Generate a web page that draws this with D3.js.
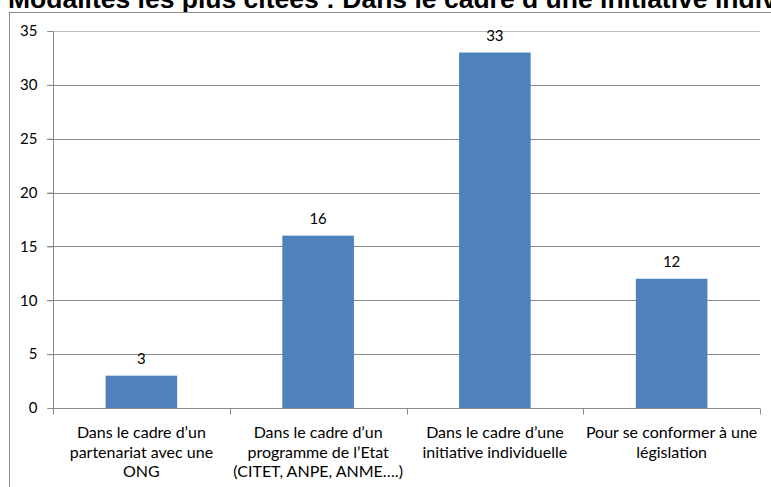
<!DOCTYPE html>
<html>
<head>
<meta charset="utf-8">
<script src="https://cdn.jsdelivr.net/npm/d3@7"></script>
<style>
  html, body { margin: 0; padding: 0; background: #fff; overflow: hidden; }
  svg { display: block; }
  text { font-family: Lato, "Open Sans", sans-serif; fill: #000; }
</style>
</head>
<body>
<svg id="chart" width="771" height="487"></svg>
<script>
// Modalités citées (nombre de réponses)
const categories = [
  ["Dans le cadre d\u2019un", "partenariat avec une", "ONG"],
  ["Dans le cadre d\u2019un", "programme de l\u2019Etat", "(CITET, ANPE, ANME\u2026.)"],
  ["Dans le cadre d\u2019une", "initiative individuelle"],
  ["Pour se conformer \u00e0 une", "l\u00e9gislation"]
];
const values = [3, 16, 33, 12];
const yTicks = [0, 5, 10, 15, 20, 25, 30, 35];
const title = "Modalit\u00e9s les plus cit\u00e9es : Dans le cadre d\u2019une initiative individuelle";

const svg = d3.select("#chart");
const plot = { left: 53, right: 760, top: 31, bottom: 408 };

// Titre (débordant du haut de la page)
svg.append("text")
  .attr("x", 8).attr("y", 8)
  .style("font-family", "Arial, 'Liberation Sans', sans-serif")
  .style("font-weight", "bold")
  .style("font-size", "26.5px")
  .text(title);

// Cadre du graphique
svg.append("rect")
  .attr("x", 9.5).attr("y", 12.5)
  .attr("width", 780).attr("height", 500)
  .attr("fill", "none").attr("stroke", "#8c8c8c").attr("stroke-width", 1);

const idx = d3.range(categories.length);
const x = d3.scaleBand().domain(idx).range([plot.left, plot.right]).padding(0);
const y = d3.scaleLinear().domain([0, 35]).range([plot.bottom, plot.top]);

// Grille horizontale
svg.append("g").selectAll("line")
  .data(yTicks.filter(t => t > 0))
  .join("line")
  .attr("x1", plot.left - 6).attr("x2", plot.right)
  .attr("y1", d => Math.round(y(d)) + 0.5).attr("y2", d => Math.round(y(d)) + 0.5)
  .attr("stroke", d => d === 35 ? "#bdbdbd" : "#8a8a8a").attr("stroke-width", 1);

// Axe Y
const yAxis = svg.append("g")
  .attr("transform", `translate(${plot.left + 0.5},0)`)
  .call(d3.axisLeft(y).tickValues(yTicks).tickSize(6).tickPadding(10).tickFormat(d3.format("d")));
yAxis.select(".domain").attr("stroke", "#8a8a8a").attr("d", `M-6,${plot.bottom + 0.5}H0V${plot.top}`);
yAxis.selectAll(".tick line").attr("stroke", "#8a8a8a");
yAxis.selectAll(".tick text")
  .style("font-size", "15px").style("font-family", "Lato, 'Open Sans', sans-serif").attr("fill", "#000");

// Axe X
const xAxisY = Math.round(y(0)) + 0.5;
svg.append("line")
  .attr("x1", plot.left).attr("x2", plot.right)
  .attr("y1", xAxisY).attr("y2", xAxisY)
  .attr("stroke", "#8a8a8a");
const bounds = idx.map(i => x(i)).concat([plot.right]);
svg.append("g").selectAll("line")
  .data(bounds)
  .join("line")
  .attr("x1", d => Math.round(d) + 0.5).attr("x2", d => Math.round(d) + 0.5)
  .attr("y1", xAxisY).attr("y2", xAxisY + 6)
  .attr("stroke", "#8a8a8a");

// Barres
const barW = x.bandwidth() * 0.405;
svg.append("g").selectAll("rect")
  .data(values)
  .join("rect")
  .attr("x", (d, i) => x(i) + (x.bandwidth() - barW) / 2)
  .attr("width", barW)
  .attr("y", d => y(d))
  .attr("height", d => y(0) - y(d))
  .attr("fill", "#4f81bd");

// Étiquettes de valeurs
svg.append("g").selectAll("text")
  .data(values)
  .join("text")
  .attr("x", (d, i) => x(i) + x.bandwidth() / 2)
  .attr("y", d => y(d) - 11.5)
  .attr("text-anchor", "middle")
  .style("font-size", "15px")
  .text(d => d);

// Libellés des catégories
const catG = svg.append("g");
categories.forEach((lines, i) => {
  const cx = x(i) + x.bandwidth() / 2;
  const t = catG.append("text")
    .attr("x", cx)
    .attr("text-anchor", "middle")
    .style("font-size", "16px");
  lines.forEach((ln, j) => {
    t.append("tspan")
      .attr("x", cx)
      .attr("y", 438 + j * 19.5)
      .text(ln);
  });
});
</script>
</body>
</html>
